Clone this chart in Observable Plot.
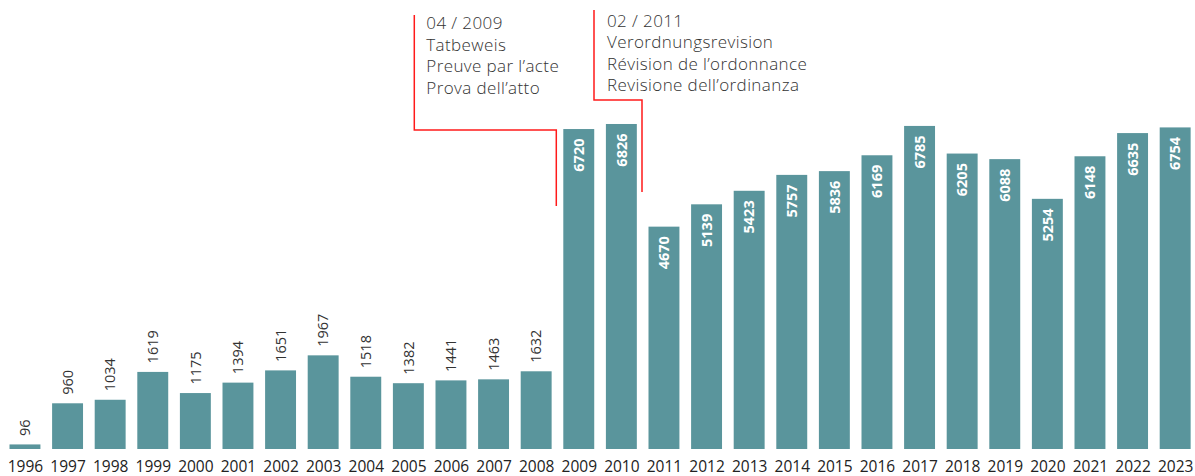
<!DOCTYPE html>
<html>
<head>
<meta charset="utf-8">
<script src="https://cdn.jsdelivr.net/npm/d3@7"></script>
<script src="https://cdn.jsdelivr.net/npm/@observablehq/plot@0.6"></script>
<style>
  html, body { margin: 0; padding: 0; background: #fff; }
  #chart svg { display: block; }
</style>
</head>
<body>
<div id="chart"></div>
<script>
const years = ["1996","1997","1998","1999","2000","2001","2002","2003","2004","2005","2006","2007","2008","2009","2010","2011","2012","2013","2014","2015","2016","2017","2018","2019","2020","2021","2022","2023"];
const counts = [96,960,1034,1619,1175,1394,1651,1967,1518,1382,1441,1463,1632,6720,6826,4670,5139,5423,5757,5836,6169,6785,6205,6088,5254,6148,6635,6754];

const annoYears = ["2009", "2011"];
const annoTexts = [
  ["04 / 2009", "Tatbeweis", "Preuve par l’acte", "Prova dell’atto"],
  ["02 / 2011", "Verordnungsrevision", "Révision de l’ordonnance", "Revisione dell’ordinanza"]
];

const data = years.map((year, i) => ({year, count: counts[i]}));
const insideThreshold = 3000;

function annotationMark(index, scales) {
  const x = scales.x;
  const layout = [
    {left: -149, right: -7, top: 15, elbow: 130, bottom: 206, textDx: 12, base: 29},
    {left: -54.5, right: -6.5, top: 10, elbow: 100, bottom: 192, textDx: 13, base: 26.5}
  ];
  const g = d3.create("svg:g");
  annoYears.forEach((yr, i) => {
    const L = layout[i];
    const x0 = x(yr);
    const xl = x0 + L.left, xr = x0 + L.right;
    g.append("path")
      .attr("d", `M${xl},${L.top}V${L.elbow}H${xr}V${L.bottom}`)
      .attr("fill", "none")
      .attr("stroke", "#ff1a1a")
      .attr("stroke-width", 1.5);
    const t = g.append("text")
      .attr("x", xl + L.textDx)
      .attr("y", L.base)
      .attr("fill", "#333")
      .attr("text-anchor", "start")
      .attr("font-size", 17)
      .attr("letter-spacing", 0.4)
      .attr("font-weight", 300);
    annoTexts[i].forEach((line, j) => {
      t.append("tspan").attr("x", xl + L.textDx).attr("dy", j === 0 ? 0 : 21.6).text(line);
    });
  });
  return g.node();
}

const step = 42.6, pad = 0.274, firstLeft = 9.5;
const rangeStart = firstLeft - pad * step;
const rangeEnd = rangeStart + step * (years.length + pad);

const chart = Plot.plot({
  width: 1195,
  height: 476,
  marginLeft: 0,
  marginRight: 0,
  marginTop: 0,
  marginBottom: 27,
  style: {fontFamily: "'Open Sans', sans-serif", fontSize: "15.5px", color: "#222", background: "#fff", overflow: "hidden"},
  x: {domain: years, range: [rangeStart, rangeEnd], padding: pad, round: false, label: null, tickSize: 0, tickPadding: 11.5},
  y: {domain: [0, 9430], axis: null},
  marks: [
    Plot.barY(data, {x: "year", y: "count", fill: "#5a959c"}),
    Plot.text(data.filter(d => d.count < insideThreshold), {
      x: "year", y: "count", text: d => String(d.count),
      rotate: -90, textAnchor: "start", dy: -9, fontSize: 14.5, fill: "#333"
    }),
    Plot.text(data.filter(d => d.count >= insideThreshold), {
      x: "year", y: "count", text: d => String(d.count),
      rotate: -90, textAnchor: "end", dy: 9, fontSize: 14.5, fontWeight: "bold", fill: "#fff"
    }),
    annotationMark
  ]
});
document.getElementById("chart").appendChild(chart);
</script>
</body>
</html>
